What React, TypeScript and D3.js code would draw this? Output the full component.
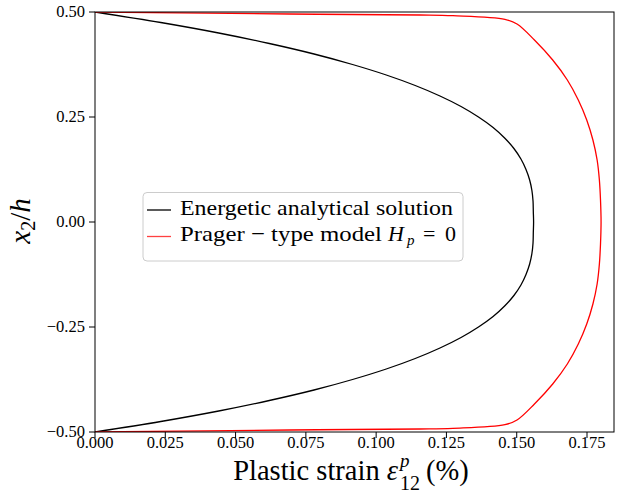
import React from "react";
import * as d3 from "d3";

// Through-thickness coordinate x2/h for the energetic solution (top to bottom)
const energeticY = [
  0.5, 0.475, 0.45, 0.425, 0.4, 0.375, 0.35, 0.325, 0.3, 0.275, 0.25, 0.225, 0.2, 0.175, 0.15, 0.125, 0.1, 0.075, 0.05, 0.025, 0,
  -0.025, -0.05, -0.075, -0.1, -0.125, -0.15, -0.175, -0.2, -0.225, -0.25, -0.275, -0.3, -0.325, -0.35, -0.375, -0.4, -0.425, -0.45, -0.475, -0.5,
];
// Plastic strain (%) of the energetic analytical solution
const energeticX = [
  0, 0.0234, 0.044, 0.062, 0.0779, 0.0916, 0.1036, 0.1139, 0.1227, 0.1302, 0.1364, 0.1416, 0.1457, 0.149, 0.1515, 0.1533, 0.1546, 0.1554, 0.1558, 0.1559, 0.156,
  0.1559, 0.1558, 0.1554, 0.1546, 0.1533, 0.1515, 0.149, 0.1457, 0.1416, 0.1364, 0.1302, 0.1227, 0.1139, 0.1036, 0.0916, 0.0779, 0.062, 0.044, 0.0234, 0,
];

// Through-thickness coordinate x2/h for the Prager-type model (top to bottom)
const pragerY = [
  0.5, 0.4952, 0.4929, 0.4912, 0.4826, 0.4714, 0.4333, 0.3857, 0.3381, 0.2905, 0.2429, 0.1952, 0.1476, 0.1, 0.0524, 0,
  -0.0524, -0.1, -0.1476, -0.1952, -0.2429, -0.2905, -0.3381, -0.3857, -0.4333, -0.4714, -0.4826, -0.4912, -0.4929, -0.4952, -0.5,
];
// Plastic strain (%) of the Prager-type model with Hp = 0
const pragerX = [
  0, 0.0693, 0.1156, 0.1273, 0.1458, 0.1501, 0.1563, 0.1628, 0.168, 0.1719, 0.1749, 0.1771, 0.1786, 0.1794, 0.1798, 0.18,
  0.1798, 0.1794, 0.1786, 0.1771, 0.1749, 0.1719, 0.168, 0.1628, 0.1563, 0.1501, 0.1458, 0.1273, 0.1156, 0.0693, 0,
];

const xTicks = [0, 0.025, 0.05, 0.075, 0.1, 0.125, 0.15, 0.175];
const yTicks = [-0.5, -0.25, 0, 0.25, 0.5];
const xDomain = [0, 0.1846];
const yDomain = [-0.5, 0.5];

const W = 624;
const H = 502;
const M = { left: 95, right: 614, top: 12, bottom: 432 };
const FONT = "'Liberation Serif', 'DejaVu Serif', serif";

export default function App() {
  const x = d3.scaleLinear().domain(xDomain).range([M.left, M.right]);
  const y = d3.scaleLinear().domain(yDomain).range([M.bottom, M.top]);

  const path = (xs: number[], ys: number[]) =>
    d3
      .line<number>()
      .x((_, i) => x(xs[i]))
      .y((_, i) => y(ys[i]))
      .curve(d3.curveCatmullRom.alpha(0.5))(xs) || "";

  const fx = d3.format(".3f");
  const fy = d3.format(".2f");

  return (
    <svg
      width={W}
      height={H}
      style={{ position: "absolute", left: 0, top: 0, background: "#fff" }}
      fontFamily={FONT}
    >
      <rect x={0} y={0} width={W} height={H} fill="#fff" />
      <defs>
        <clipPath id="plot">
          <rect x={M.left} y={M.top} width={M.right - M.left} height={M.bottom - M.top} />
        </clipPath>
      </defs>

      <g clipPath="url(#plot)">
        <path d={path(energeticX, energeticY)} fill="none" stroke="#000" strokeWidth={1.3} />
        <path d={path(pragerX, pragerY)} fill="none" stroke="#ff0000" strokeWidth={1.3} />
      </g>

      {/* frame */}
      <rect
        x={M.left}
        y={M.top}
        width={M.right - M.left}
        height={M.bottom - M.top}
        fill="none"
        stroke="#000"
        strokeWidth={1}
      />

      {/* x ticks */}
      {xTicks.map((t) => (
        <g key={"x" + t}>
          <line x1={x(t)} x2={x(t)} y1={M.bottom} y2={M.bottom + 6} stroke="#000" strokeWidth={1} />
          <text x={x(t)} y={M.bottom + 16} fontSize={16.5} textAnchor="middle">
            {fx(t)}
          </text>
        </g>
      ))}

      {/* y ticks */}
      {yTicks.map((t) => (
        <g key={"y" + t}>
          <line x1={M.left - 6} x2={M.left} y1={y(t)} y2={y(t)} stroke="#000" strokeWidth={1} />
          <text x={M.left - 10} y={y(t) + 4.5} fontSize={16.5} textAnchor="end">
            {fy(t)}
          </text>
        </g>
      ))}

      {/* x axis label */}
      <g fontSize={28.5}>
        <text x={398} y={480} textAnchor="end">
          Plastic strain <tspan fontStyle="italic">ε</tspan>
        </text>
        <text x={400} y={467} fontSize={19} fontStyle="italic">
          p
        </text>
        <text x={400} y={490} fontSize={20}>
          12
        </text>
        <text x={426} y={480}>
          (%)
        </text>
      </g>

      {/* y axis label */}
      <text transform="translate(30,221) rotate(-90)" textAnchor="middle" fontSize={29}>
        <tspan fontStyle="italic">x</tspan>
        <tspan fontSize={20} dy={5}>
          2
        </tspan>
        <tspan dy={-5}>/</tspan>
        <tspan fontStyle="italic">h</tspan>
      </text>

      {/* legend */}
      <g>
        <rect x={143} y={192.5} width={320} height={68.5} rx={4} fill="#fff" fillOpacity={0.8} stroke="#cccccc" strokeWidth={1} />
        <line x1={147} x2={171} y1={210} y2={210} stroke="#000" strokeWidth={1.3} />
        <line x1={147} x2={171} y1={236.5} y2={236.5} stroke="#ff0000" strokeWidth={1.3} strokeOpacity={0.75} />
        <text x={180} y={214.5} fontSize={22} textLength={273} lengthAdjust="spacingAndGlyphs">
          Energetic analytical solution
        </text>
        <text x={180} y={240.5} fontSize={22} textLength={202} lengthAdjust="spacingAndGlyphs">
          Prager − type model
        </text>
        <text x={388} y={240.5} fontSize={22} fontStyle="italic">
          H
        </text>
        <text x={407} y={245} fontSize={15} fontStyle="italic">
          p
        </text>
        <text x={423} y={240.5} fontSize={22}>
          =
        </text>
        <text x={445} y={240.5} fontSize={22}>
          0
        </text>
      </g>
    </svg>
  );
}
